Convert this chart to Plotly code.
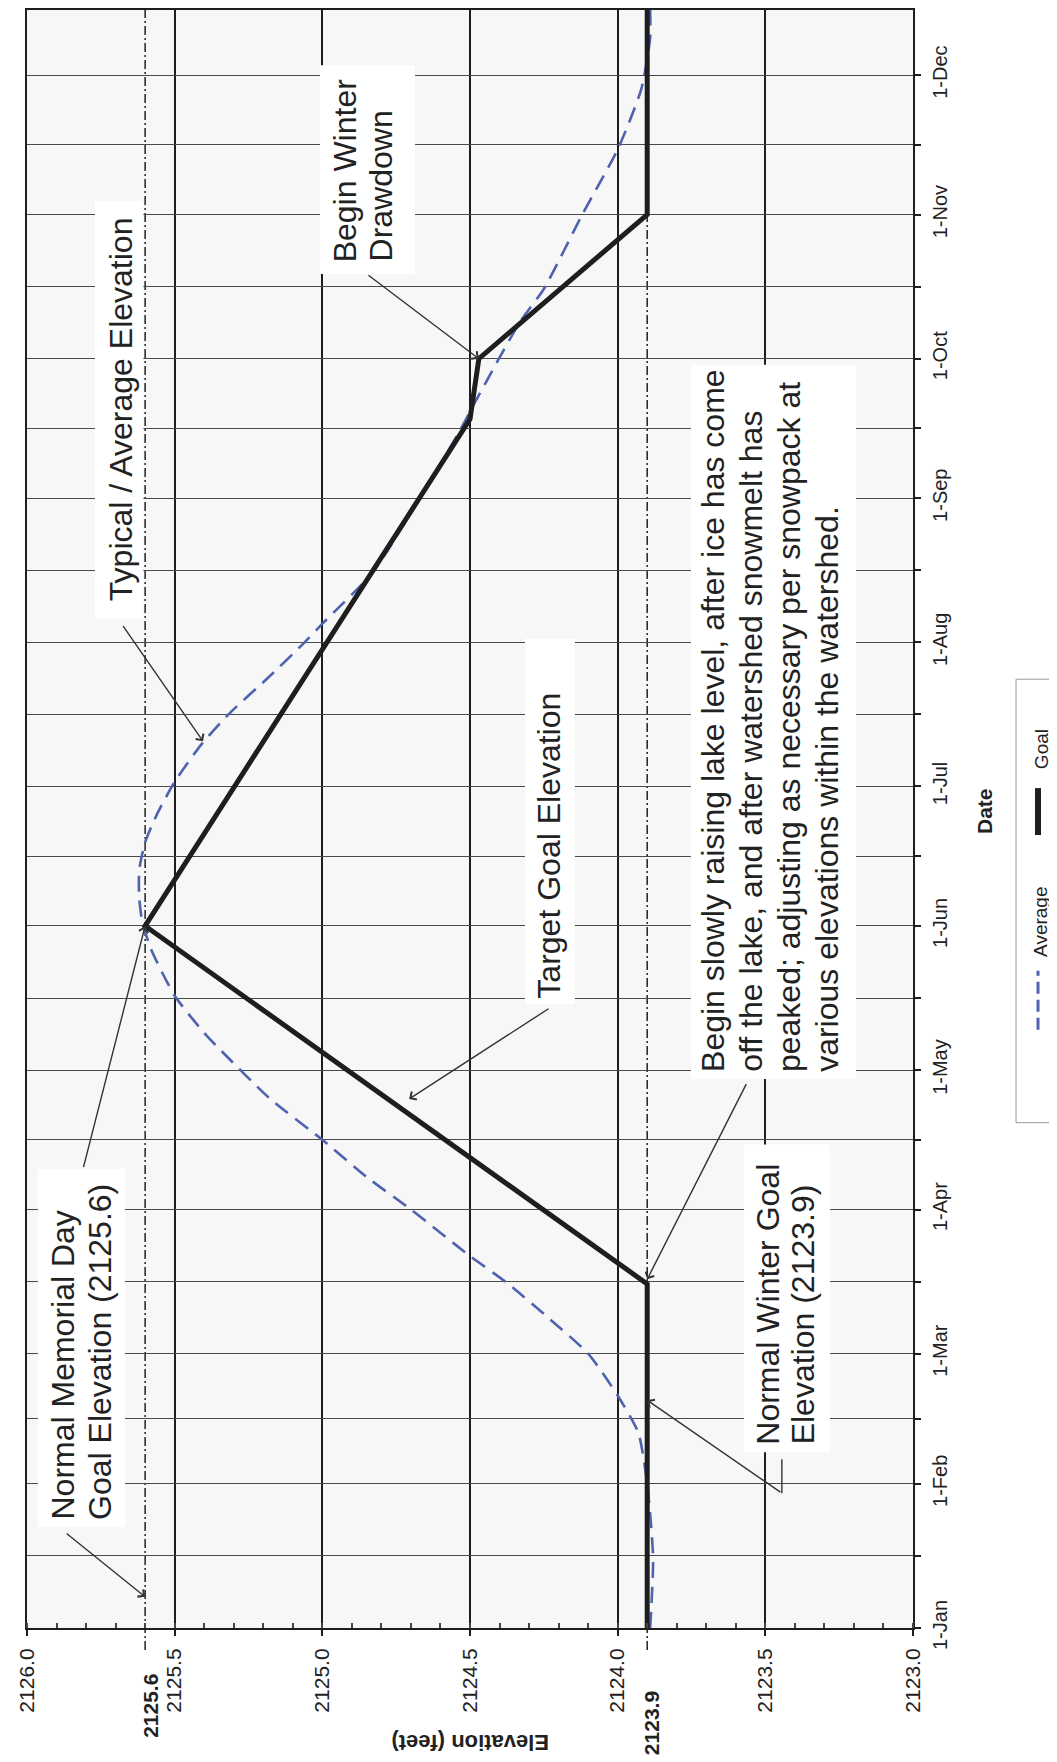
import plotly.graph_objects as go
import pandas as pd

FONT = "Liberation Sans, Arial, Helvetica, sans-serif"
INK = "#222222"

# ---------------- data ----------------
month_starts = ['2023-01-01', '2023-02-01', '2023-03-01', '2023-04-01', '2023-05-01', '2023-06-01',
                '2023-07-01', '2023-08-01', '2023-09-01', '2023-10-01', '2023-11-01', '2023-12-01']
month_labels = ['1-Jan', '1-Feb', '1-Mar', '1-Apr', '1-May', '1-Jun',
                '1-Jul', '1-Aug', '1-Sep', '1-Oct', '1-Nov', '1-Dec']
elev_ticks = [2126.0, 2125.5, 2125.0, 2124.5, 2124.0, 2123.5, 2123.0]
elev_tick_labels = ['2126.0', '2125.5', '2125.0', '2124.5', '2124.0', '2123.5', '2123.0']

memorial_goal = 2125.6
winter_goal = 2123.9

goal_dates = ['2023-01-01', '2023-03-16', '2023-06-01', '2023-09-18', '2023-10-01', '2023-11-01', '2023-12-31']
goal_elev = [2123.9, 2123.9, 2125.6, 2124.5, 2124.47, 2123.9, 2123.9]

avg_dates = ['2023-01-01', '2023-01-16', '2023-02-01', '2023-02-12', '2023-02-20', '2023-03-01',
             '2023-03-09', '2023-03-16', '2023-03-22', '2023-04-01', '2023-04-08', '2023-04-16',
             '2023-04-25', '2023-05-05', '2023-05-09', '2023-05-17', '2023-05-27', '2023-06-02',
             '2023-06-07', '2023-06-13', '2023-06-19', '2023-06-25', '2023-07-02', '2023-07-10',
             '2023-07-17', '2023-07-24', '2023-08-01', '2023-08-05', '2023-08-16', '2023-09-01',
             '2023-09-16', '2023-09-22', '2023-10-09', '2023-10-16', '2023-11-01', '2023-11-15',
             '2023-11-28', '2023-12-09', '2023-12-15']
avg_elev = [2123.89, 2123.88, 2123.90, 2123.93, 2124.00, 2124.10,
            2124.24, 2124.37, 2124.50, 2124.70, 2124.85, 2125.00,
            2125.18, 2125.34, 2125.40, 2125.50, 2125.58, 2125.61,
            2125.62, 2125.62, 2125.60, 2125.56, 2125.50, 2125.41,
            2125.31, 2125.19, 2125.06, 2125.00, 2124.83, 2124.67,
            2124.53, 2124.48, 2124.33, 2124.25, 2124.12, 2124.00,
            2123.92, 2123.89, 2123.89]

# ---------------- helpers ----------------
T0 = pd.Timestamp('2023-01-01')


def at_day(n):
    return (T0 + pd.Timedelta(days=n)).strftime('%Y-%m-%d %H:%M')


ms = [pd.Timestamp(m) for m in month_starts] + [pd.Timestamp('2024-01-01')]
grid_vals, grid_text = [], []
for i, lab in enumerate(month_labels):
    grid_vals.append(ms[i].strftime('%Y-%m-%d'))
    grid_text.append(lab)
    mid = ms[i] + (ms[i + 1] - ms[i]) / 2
    grid_vals.append(mid.strftime('%Y-%m-%d %H:%M'))
    grid_text.append('')

fig = go.Figure()

fig.add_trace(go.Scatter(
    x=avg_elev, y=avg_dates, name='Average', mode='lines',
    line=dict(color='#4f62ad', width=2.6, dash='16px,9px', shape='spline', smoothing=0.6),
    showlegend=False))
fig.add_trace(go.Scatter(
    x=goal_elev, y=goal_dates, name='Goal', mode='lines',
    line=dict(color='#1e1e1e', width=5),
    showlegend=False))

shapes = []
annotations = []

# reference goal elevations (dash-dot)
for g in (memorial_goal, winter_goal):
    shapes.append(dict(type='line', xref='x', yref='paper', x0=g, x1=g, y0=-0.0136, y1=1,
                       line=dict(color='#222', width=1.5, dash='9px,3px,2px,3px'), layer='between'))

# white callout boxes (elev0, elev1, day0, day1)
boxes = [
    (2125.77, 2125.606, 217.0, 307.0),   # typical / average
    (2125.963, 2125.668, 21.7, 98.8),    # memorial day
    (2124.314, 2124.145, 134.2, 212.8),  # target goal
    (2125.008, 2124.686, 291.2, 336.1),  # begin winter drawdown
    (2123.752, 2123.193, 118.1, 271.7),  # begin slowly raising
    (2123.572, 2123.281, 37.8, 104.0),   # normal winter goal
]
for e0, e1, d0, d1 in boxes:
    shapes.append(dict(type='rect', xref='x', yref='y', x0=e0, x1=e1, y0=at_day(d0), y1=at_day(d1),
                       fillcolor='white', line=dict(width=0), layer='above'))


def vtext(lines, elevs, start_day, size=32):
    for line, e in zip(lines, elevs):
        annotations.append(dict(text=line, x=e, y=at_day(start_day), xref='x', yref='y',
                                textangle=-90, xanchor='center', yanchor='bottom', showarrow=False,
                                font=dict(family=FONT, size=size, color=INK)))


def arrow(tail_e, tail_d, tip_e, tip_d):
    annotations.append(dict(text='', x=tip_e, y=at_day(tip_d), ax=tail_e, ay=at_day(tail_d),
                            xref='x', yref='y', axref='x', ayref='y', showarrow=True,
                            arrowhead=4, arrowsize=1.3, arrowwidth=1.4, arrowcolor='#333'))


vtext(['Typical / Average Elevation'], [2125.682], 220.4)
vtext(['Normal Memorial Day', 'Goal Elevation (2125.6)'], [2125.878, 2125.753], 22.8)
vtext(['Target Goal Elevation'], [2124.233], 134.9)
vtext(['Begin Winter', 'Drawdown'], [2124.925, 2124.801], 293.4)
vtext(['Begin slowly raising lake level, after ice has come',
       'off the lake, and after watershed snowmelt has',
       'peaked; adjusting as necessary per snowpack at',
       'various elevations within the watershed.'],
      [2123.675, 2123.547, 2123.419, 2123.291], 119.2)
vtext(['Normal Winter Goal', 'Elevation (2123.9)'], [2123.491, 2123.372], 39.1)

arrow(2125.81, 98.8, 2125.6, 151.0)
arrow(2125.871, 20.6, 2125.6, 6.7)
arrow(2125.678, 215.8, 2125.404, 190.7)
arrow(2124.229, 133.4, 2124.706, 113.8)
arrow(2124.849, 291.2, 2124.47, 273.0)
arrow(2123.562, 117.3, 2123.9, 75.0)
arrow(2123.444, 29.0, 2123.9, 49.0)
shapes.append(dict(type='line', xref='x', yref='y', x0=2123.444, x1=2123.444,
                   y0=at_day(29.0), y1=at_day(36.3), line=dict(color='#333', width=1.4), layer='above'))

# bold goal labels under axis
annotations.append(dict(text='<b>2125.6</b>', x=2125.58, y=-0.0481, xref='x', yref='paper',
                        textangle=-90, showarrow=False, xanchor='center', yanchor='middle',
                        font=dict(family=FONT, size=21, color=INK)))
annotations.append(dict(text='<b>2123.9</b>', x=2123.886, y=-0.0586, xref='x', yref='paper',
                        textangle=-90, showarrow=False, xanchor='center', yanchor='middle',
                        font=dict(family=FONT, size=21, color=INK)))

# axis titles
annotations.append(dict(text='<b>Elevation (feet)</b>', x=0.5, y=-0.0704, xref='paper', yref='paper',
                        textangle=180, showarrow=False, xanchor='center', yanchor='middle',
                        font=dict(family=FONT, size=22, color=INK)))
annotations.append(dict(text='<b>Date</b>', x=1.0801, y=0.5049, xref='paper', yref='paper',
                        textangle=-90, showarrow=False, xanchor='center', yanchor='middle',
                        font=dict(family=FONT, size=21, color=INK)))

# legend (rotated, drawn by hand)
shapes.append(dict(type='rect', xref='paper', yref='paper', x0=1.1163, x1=1.1603, y0=0.3123, y1=0.5864,
                   line=dict(color='#999', width=1), fillcolor='white'))
shapes.append(dict(type='line', xref='paper', yref='paper', x0=1.1411, x1=1.1411, y0=0.3698, y1=0.4062,
                   line=dict(color='#4f62ad', width=3, dash='12px,6px')))
shapes.append(dict(type='line', xref='paper', yref='paper', x0=1.1411, x1=1.1411, y0=0.4901, y1=0.5191,
                   line=dict(color='#1e1e1e', width=6)))
annotations.append(dict(text='Average', x=1.1445, y=0.4364, xref='paper', yref='paper', textangle=-90,
                        showarrow=False, xanchor='center', yanchor='middle',
                        font=dict(family=FONT, size=19, color=INK)))
annotations.append(dict(text='Goal', x=1.1445, y=0.5432, xref='paper', yref='paper', textangle=-90,
                        showarrow=False, xanchor='center', yanchor='middle',
                        font=dict(family=FONT, size=19, color=INK)))

fig.update_layout(
    width=1057, height=1762,
    margin=dict(l=19, r=152, t=0, b=142),
    paper_bgcolor='white', plot_bgcolor='#f7f7f7',
    font=dict(family=FONT, color=INK),
    shapes=shapes, annotations=annotations,
    xaxis=dict(range=[2126.0, 2123.0], tickvals=elev_ticks, ticktext=elev_tick_labels,
               tickangle=-90, tickfont=dict(size=21, color=INK), side='bottom',
               showgrid=True, gridcolor='#1e1e1e', gridwidth=2,
               showline=True, linecolor='#1e1e1e', linewidth=2, mirror=True,
               ticks='outside', ticklen=6, tickcolor='#1e1e1e', tickwidth=1.5,
               ticklabelstandoff=4, zeroline=False,
               minor=dict(ticks='inside', ticklen=5, dtick=0.1, tickcolor='#444', showgrid=False)),
    yaxis=dict(type='date', range=['2023-01-01', at_day(348)], tickvals=grid_vals, ticktext=grid_text,
               side='right', tickangle=-90, tickfont=dict(size=20, color=INK),
               showgrid=True, gridcolor='#4a4a4a', gridwidth=1.2,
               showline=True, linecolor='#1e1e1e', linewidth=2, mirror=True,
               ticks='outside', ticklen=6, tickcolor='#1e1e1e', tickwidth=1.5,
               ticklabelstandoff=2, zeroline=False),
)

fig.write_html('out.html')
